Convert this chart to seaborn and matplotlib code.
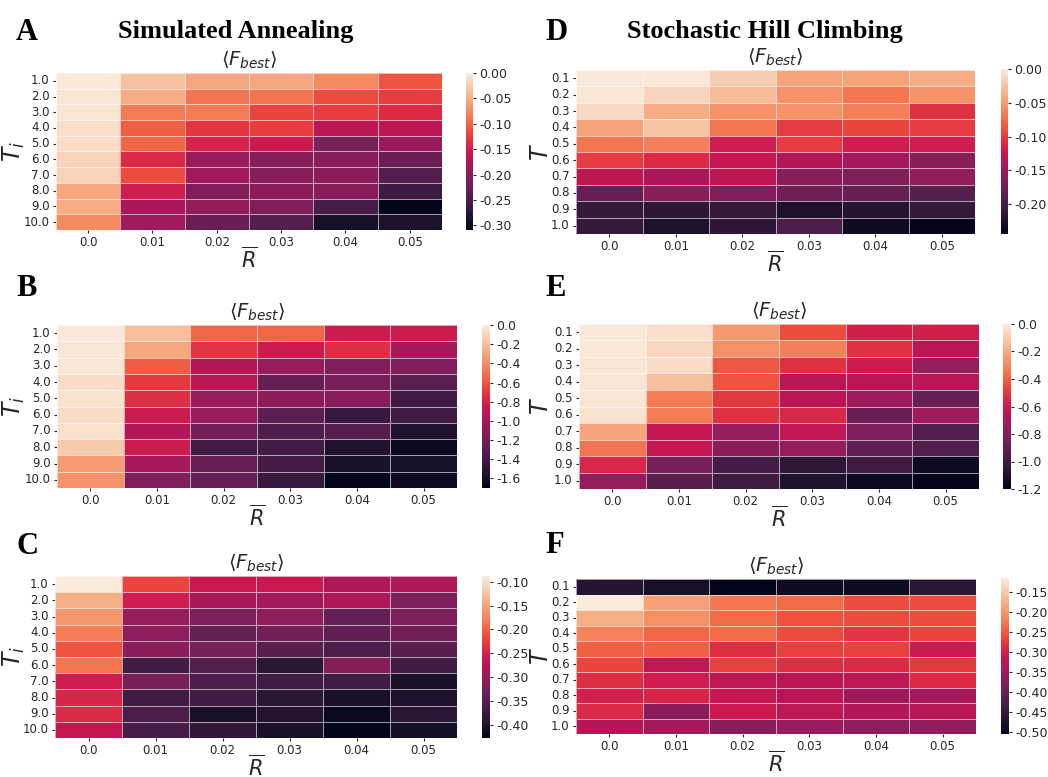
import numpy as np
import pandas as pd
import seaborn as sns
import matplotlib.pyplot as plt

sns.set_style("white")

# axis labels
r_labels = ["0.0", "0.01", "0.02", "0.03", "0.04", "0.05"]
ti_labels = ["1.0", "2.0", "3.0", "4.0", "5.0", "6.0", "7.0", "8.0", "9.0", "10.0"]
t_labels = ["0.1", "0.2", "0.3", "0.4", "0.5", "0.6", "0.7", "0.8", "0.9", "1.0"]

# Simulated annealing, panel A
sa_a = [
    [-0.003, -0.035, -0.055, -0.055, -0.075, -0.110],
    [-0.005, -0.050, -0.090, -0.090, -0.115, -0.125],
    [-0.005, -0.085, -0.085, -0.120, -0.125, -0.140],
    [-0.012, -0.105, -0.130, -0.125, -0.165, -0.165],
    [-0.012, -0.100, -0.145, -0.155, -0.215, -0.190],
    [-0.020, -0.140, -0.190, -0.205, -0.205, -0.225],
    [-0.020, -0.115, -0.185, -0.205, -0.200, -0.240],
    [-0.055, -0.150, -0.210, -0.200, -0.205, -0.260],
    [-0.050, -0.180, -0.195, -0.210, -0.250, -0.309],
    [-0.075, -0.185, -0.225, -0.240, -0.290, -0.285],
]
# panel B
sa_b = [
    [-0.01, -0.20, -0.55, -0.55, -0.85, -0.85],
    [-0.02, -0.30, -0.72, -0.85, -0.75, -1.00],
    [-0.03, -0.58, -0.95, -1.05, -1.15, -1.15],
    [-0.07, -0.70, -0.92, -1.25, -1.18, -1.30],
    [-0.04, -0.75, -1.05, -1.10, -1.12, -1.42],
    [-0.07, -0.85, -1.05, -1.30, -1.45, -1.42],
    [-0.05, -0.95, -1.20, -1.35, -1.32, -1.55],
    [-0.15, -0.85, -1.40, -1.40, -1.55, -1.65],
    [-0.35, -1.00, -1.25, -1.40, -1.58, -1.60],
    [-0.38, -1.15, -1.25, -1.45, -1.70, -1.63],
]
# panel C
sa_c = [
    [-0.088, -0.220, -0.260, -0.260, -0.280, -0.280],
    [-0.140, -0.255, -0.285, -0.290, -0.280, -0.320],
    [-0.160, -0.300, -0.320, -0.305, -0.340, -0.320],
    [-0.180, -0.305, -0.340, -0.330, -0.345, -0.330],
    [-0.210, -0.310, -0.325, -0.350, -0.360, -0.350],
    [-0.185, -0.370, -0.355, -0.390, -0.315, -0.370],
    [-0.255, -0.325, -0.360, -0.370, -0.370, -0.405],
    [-0.245, -0.370, -0.370, -0.390, -0.405, -0.400],
    [-0.240, -0.360, -0.405, -0.395, -0.420, -0.390],
    [-0.265, -0.365, -0.385, -0.405, -0.428, -0.410],
]
# Stochastic hill climbing, panel D
shc_d = [
    [-0.001, -0.002, -0.020, -0.045, -0.045, -0.040],
    [-0.003, -0.015, -0.030, -0.055, -0.070, -0.055],
    [-0.012, -0.040, -0.055, -0.055, -0.065, -0.105],
    [-0.045, -0.025, -0.070, -0.100, -0.095, -0.100],
    [-0.070, -0.065, -0.120, -0.100, -0.120, -0.120],
    [-0.100, -0.110, -0.125, -0.135, -0.145, -0.160],
    [-0.130, -0.140, -0.130, -0.160, -0.165, -0.155],
    [-0.180, -0.160, -0.165, -0.175, -0.180, -0.190],
    [-0.210, -0.215, -0.210, -0.225, -0.220, -0.210],
    [-0.210, -0.225, -0.215, -0.195, -0.235, -0.244],
]
# panel E
shc_e = [
    [-0.005, -0.04, -0.25, -0.45, -0.58, -0.58],
    [-0.010, -0.07, -0.28, -0.32, -0.52, -0.65],
    [-0.020, -0.05, -0.42, -0.52, -0.60, -0.75],
    [-0.020, -0.14, -0.43, -0.66, -0.65, -0.65],
    [-0.020, -0.33, -0.50, -0.65, -0.72, -0.88],
    [-0.030, -0.33, -0.52, -0.55, -0.88, -0.72],
    [-0.220, -0.62, -0.75, -0.63, -0.82, -0.95],
    [-0.350, -0.62, -0.78, -0.75, -0.90, -0.95],
    [-0.550, -0.83, -0.98, -1.05, -1.00, -1.15],
    [-0.750, -0.92, -1.00, -1.10, -1.17, -1.20],
]
# panel F
shc_f = [
    [-0.465, -0.480, -0.504, -0.490, -0.490, -0.460],
    [-0.114, -0.190, -0.225, -0.235, -0.260, -0.260],
    [-0.175, -0.205, -0.235, -0.255, -0.260, -0.260],
    [-0.215, -0.240, -0.235, -0.260, -0.280, -0.265],
    [-0.245, -0.245, -0.285, -0.270, -0.270, -0.310],
    [-0.265, -0.320, -0.270, -0.285, -0.290, -0.275],
    [-0.285, -0.305, -0.320, -0.325, -0.320, -0.290],
    [-0.300, -0.295, -0.315, -0.325, -0.350, -0.345],
    [-0.290, -0.370, -0.310, -0.320, -0.330, -0.325],
    [-0.330, -0.345, -0.370, -0.355, -0.365, -0.360],
]

# colour bar ticks per panel
ticks_a = [0.0, -0.05, -0.10, -0.15, -0.20, -0.25, -0.30]
ticks_b = [0.0, -0.2, -0.4, -0.6, -0.8, -1.0, -1.2, -1.4, -1.6]
ticks_c = [-0.10, -0.15, -0.20, -0.25, -0.30, -0.35, -0.40]
ticks_d = [0.0, -0.05, -0.10, -0.15, -0.20]
ticks_e = [0.0, -0.2, -0.4, -0.6, -0.8, -1.0, -1.2]
ticks_f = [-0.15, -0.20, -0.25, -0.30, -0.35, -0.40, -0.45, -0.50]

W, H = 1048, 777
fig = plt.figure(figsize=(W / 100, H / 100), dpi=100)


def px_axes(x0, y0, x1, y1):
    # pixel box (top-left origin) -> figure axes
    return fig.add_axes([x0 / W, 1 - y1 / H, (x1 - x0) / W, (y1 - y0) / H])


panels = [
    (sa_a, ti_labels, r"$T_i$", ticks_a, "%.2f", 0.0, (56, 73, 442, 230), (466, 73, 473, 230), 27),
    (sa_b, ti_labels, r"$T_i$", ticks_b, "%.1f", 0.0, (57, 325, 457, 488), (482, 325, 490, 488), 27),
    (sa_c, ti_labels, r"$T_i$", ticks_c, "%.2f", None, (55, 576, 457, 738), (482, 576, 490, 738), 27),
    (shc_d, t_labels, r"$T$", ticks_d, "%.2f", 0.0, (576, 70, 975, 234), (1001, 69, 1008, 234), 553),
    (shc_e, t_labels, r"$T$", ticks_e, "%.1f", 0.0, (579, 324, 979, 489), (1003, 324, 1011, 489), 553),
    (shc_f, t_labels, r"$T$", ticks_f, "%.2f", None, (576, 579, 976, 734), (1001, 578, 1009, 734), 553),
]

for vals, rows, ylab, cticks, cfmt, vmax, box, cbox, ylab_x in panels:
    df = pd.DataFrame(vals, index=rows, columns=r_labels)
    ax = px_axes(*box)
    cax = px_axes(*cbox)
    sns.heatmap(df, ax=ax, cbar_ax=cax, cmap="rocket", vmax=vmax,
                linewidths=0.5, linecolor=(1, 1, 1, 0.6),
                cbar_kws={"ticks": cticks, "format": cfmt})
    ax.set_title(r"$\langle F_{best} \rangle$", fontsize=14, pad=5)
    ax.set_xlabel(r"$\overline{R}$", fontsize=15, labelpad=-2)
    ax.set_ylabel(ylab, fontsize=17, rotation=90)
    ax.yaxis.set_label_coords((ylab_x - box[0]) / (box[2] - box[0]), 0.5)
    ax.tick_params(axis="both", labelsize=8.5, length=2.5, pad=2, left=True, bottom=True)
    ax.tick_params(axis="y", rotation=0)
    cax.tick_params(labelsize=9, length=2.5, pad=2)

serif = dict(family="Liberation Serif", fontweight="bold", color="black")
fig.text(118 / W, 1 - 38 / H, "Simulated Annealing", fontsize=19, **serif)
fig.text(627 / W, 1 - 38 / H, "Stochastic Hill Climbing", fontsize=19, **serif)
for lab, x, y in [("A", 16, 40), ("B", 16, 296), ("C", 16, 554),
                  ("D", 545, 40), ("E", 545, 296), ("F", 545, 553)]:
    fig.text(x / W, 1 - y / H, lab, fontsize=22, **serif)

fig.savefig("out.png", dpi=100)
